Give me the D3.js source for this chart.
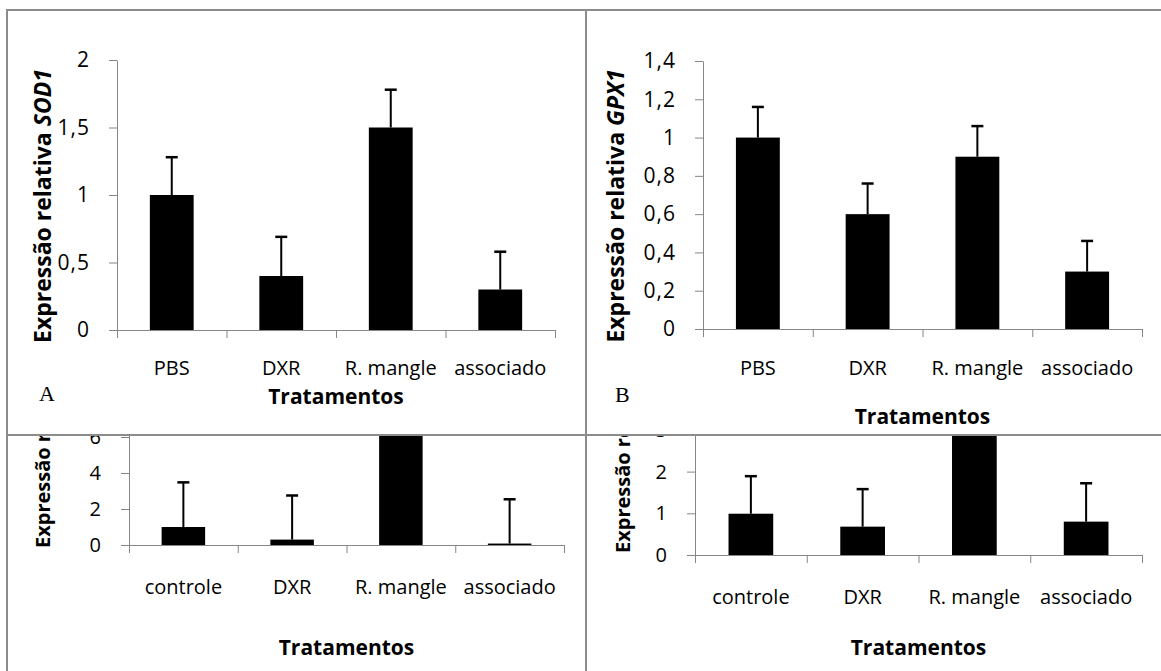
<!DOCTYPE html>
<html>
<head>
<meta charset="utf-8">
<script src="https://cdn.jsdelivr.net/npm/d3@7"></script>
<style>
  body { margin: 0; background: #fff; }
  svg text { font-family: "Open Sans", "Noto Sans", sans-serif; fill: #000; }
</style>
</head>
<body>
<svg id="chart" width="1161" height="671"></svg>
<script>
// categories
const topCategories = ["PBS", "DXR", "R. mangle", "associado"];
const bottomCategories = ["controle", "DXR", "R. mangle", "associado"];

// series values (mean) and upper error
const sod1Values = [1.0, 0.4, 1.5, 0.3];
const sod1Errors = [0.28, 0.29, 0.28, 0.28];
const gpx1Values = [1.0, 0.6, 0.9, 0.3];
const gpx1Errors = [0.16, 0.16, 0.16, 0.16];
const lowerLeftValues = [1.0, 0.3, 8.5, 0.08];
const lowerLeftErrors = [2.48, 2.45, 2.5, 2.46];
const lowerRightValues = [0.99, 0.68, 3.6, 0.8];
const lowerRightErrors = [0.9, 0.9, 0.9, 0.92];

// tick labels
const sod1Ticks = [0, 0.5, 1, 1.5, 2];
const gpx1Ticks = [0, 0.2, 0.4, 0.6, 0.8, 1, 1.2, 1.4];
const lowerLeftTicks = [0, 2, 4, 6, 8];
const lowerRightTicks = [0, 1, 2, 3, 4];

const xTitle = "Tratamentos";

const ptLocale = d3.formatLocale({ decimal: ",", thousands: ".", grouping: [3], currency: ["", ""] });
const fmt = ptLocale.format("~f");

const svg = d3.select("#chart");
const axisColor = "#868686";
const borderColor = "#8c8c8c";

// clip for the lower row (cut off by the table cell)
svg.append("defs").append("clipPath").attr("id", "lowerClip")
  .append("rect").attr("x", 0).attr("y", 436).attr("width", 1161).attr("height", 235);

const panels = [
  { categories: topCategories, values: sod1Values, errors: sod1Errors, ticks: sod1Ticks,
    x0: 117, x1: 555, y0: 330, yTop: 60, max: 2, tickFont: 21, labelFont: 23,
    catY: 367, titleY: 396, labelX: 42, labelY: 206, anchor: "middle",
    label: ["Expressão relativa ", "SOD1"], letter: "A", letterX: 39, letterY: 393 },
  { categories: topCategories, values: gpx1Values, errors: gpx1Errors, ticks: gpx1Ticks,
    x0: 703, x1: 1142, y0: 329, yTop: 61, max: 1.4, tickFont: 21, labelFont: 23,
    catY: 367, titleY: 416, labelX: 615, labelY: 206, anchor: "middle",
    label: ["Expressão relativa ", "GPX1"], letter: "B", letterX: 615, letterY: 394 },
  { categories: bottomCategories, values: lowerLeftValues, errors: lowerLeftErrors, ticks: lowerLeftTicks,
    x0: 129, x1: 564, y0: 545, yTop: 401, max: 8, tickFont: 20, labelFont: 20,
    catY: 586, titleY: 647, labelX: 42, labelY: 548, anchor: "start",
    label: ["Expressão relativa", ""], clip: true },
  { categories: bottomCategories, values: lowerRightValues, errors: lowerRightErrors, ticks: lowerRightTicks,
    x0: 695, x1: 1142, y0: 555, yTop: 388.2, max: 4, tickFont: 20, labelFont: 20,
    catY: 596, titleY: 647, labelX: 622, labelY: 553, anchor: "start",
    label: ["Expressão relativa", ""], clip: true }
];

const drawPanel = (parent, p) => {
  const g = parent.append("g");
  if (p.clip) g.attr("clip-path", "url(#lowerClip)");

  const x = d3.scaleBand().domain(p.categories).range([p.x0, p.x1]);
  const edges = d3.scaleLinear().domain([0, p.categories.length]).range([p.x0, p.x1]);
  const y = d3.scaleLinear().domain([0, p.max]).range([p.y0, p.yTop]);
  const bw = x.bandwidth();

  const data = p.categories.map((c, i) => ({ c, v: p.values[i], e: p.errors[i] }));

  // error bars (plus side only)
  const err = g.selectAll(".err").data(data).enter().append("g").attr("class", "err");
  err.append("line")
    .attr("x1", (d) => x(d.c) + bw / 2).attr("x2", (d) => x(d.c) + bw / 2)
    .attr("y1", (d) => y(d.v)).attr("y2", (d) => y(d.v + d.e))
    .attr("stroke", "#000").attr("stroke-width", 2);
  err.append("line")
    .attr("x1", (d) => x(d.c) + bw / 2 - 6).attr("x2", (d) => x(d.c) + bw / 2 + 6)
    .attr("y1", (d) => y(d.v + d.e)).attr("y2", (d) => y(d.v + d.e))
    .attr("stroke", "#000").attr("stroke-width", 2.5);

  // bars
  g.selectAll(".bar").data(data).enter().append("rect").attr("class", "bar")
    .attr("x", (d) => x(d.c) + bw * 0.3)
    .attr("width", bw * 0.4)
    .attr("y", (d) => y(d.v))
    .attr("height", (d) => y(0) - y(d.v))
    .attr("fill", "#000");

  // y axis
  const yAxis = g.append("g").attr("transform", `translate(${p.x0},0)`)
    .call(d3.axisLeft(y).tickValues(p.ticks).tickFormat(fmt)
      .tickSize(8).tickSizeOuter(0).tickPadding(19));
  yAxis.selectAll("path, line").attr("stroke", axisColor);
  yAxis.selectAll("text").attr("font-size", p.tickFont).attr("letter-spacing", 1)
    .attr("font-family", "Open Sans").attr("fill", "#111");

  // x axis: ticks on category edges
  const xAxis = g.append("g").attr("transform", `translate(0,${p.y0})`)
    .call(d3.axisBottom(edges).tickValues(d3.range(p.categories.length + 1))
      .tickFormat("").tickSize(8).tickSizeOuter(0));
  xAxis.selectAll("path, line").attr("stroke", axisColor);

  g.selectAll(".cat").data(p.categories).enter().append("text").attr("class", "cat")
    .attr("x", (d) => x(d) + bw / 2).attr("y", p.catY)
    .attr("text-anchor", "middle").attr("dominant-baseline", "central")
    .attr("font-size", 20).text((d) => d);

  g.append("text")
    .attr("x", (p.x0 + p.x1) / 2).attr("y", p.titleY)
    .attr("text-anchor", "middle").attr("dominant-baseline", "central")
    .attr("font-size", 21).attr("font-weight", "bold").text(xTitle);

  const yl = g.append("text")
    .attr("transform", `translate(${p.labelX},${p.labelY}) rotate(-90)`)
    .attr("text-anchor", p.anchor).attr("dominant-baseline", "central")
    .attr("font-size", p.labelFont).attr("font-weight", "bold");
  yl.append("tspan").text(p.label[0]);
  if (p.label[1]) yl.append("tspan").attr("font-style", "italic").text(p.label[1]);

  if (p.letter) {
    g.append("text")
      .attr("x", p.letterX).attr("y", p.letterY)
      .attr("dominant-baseline", "central")
      .attr("style", "font-family:'Liberation Serif',serif")
      .attr("font-size", 22).text(p.letter);
  }
};

panels.forEach((p) => drawPanel(svg, p));

// table cell borders
const borders = [
  [6, 10, 1161, 10],
  [7, 9, 7, 671],
  [586, 9, 586, 671],
  [7, 435, 1161, 435]
];
svg.selectAll(".border").data(borders).enter().append("line").attr("class", "border")
  .attr("x1", (d) => d[0]).attr("y1", (d) => d[1])
  .attr("x2", (d) => d[2]).attr("y2", (d) => d[3])
  .attr("stroke", borderColor).attr("stroke-width", 2);
</script>
</body>
</html>
